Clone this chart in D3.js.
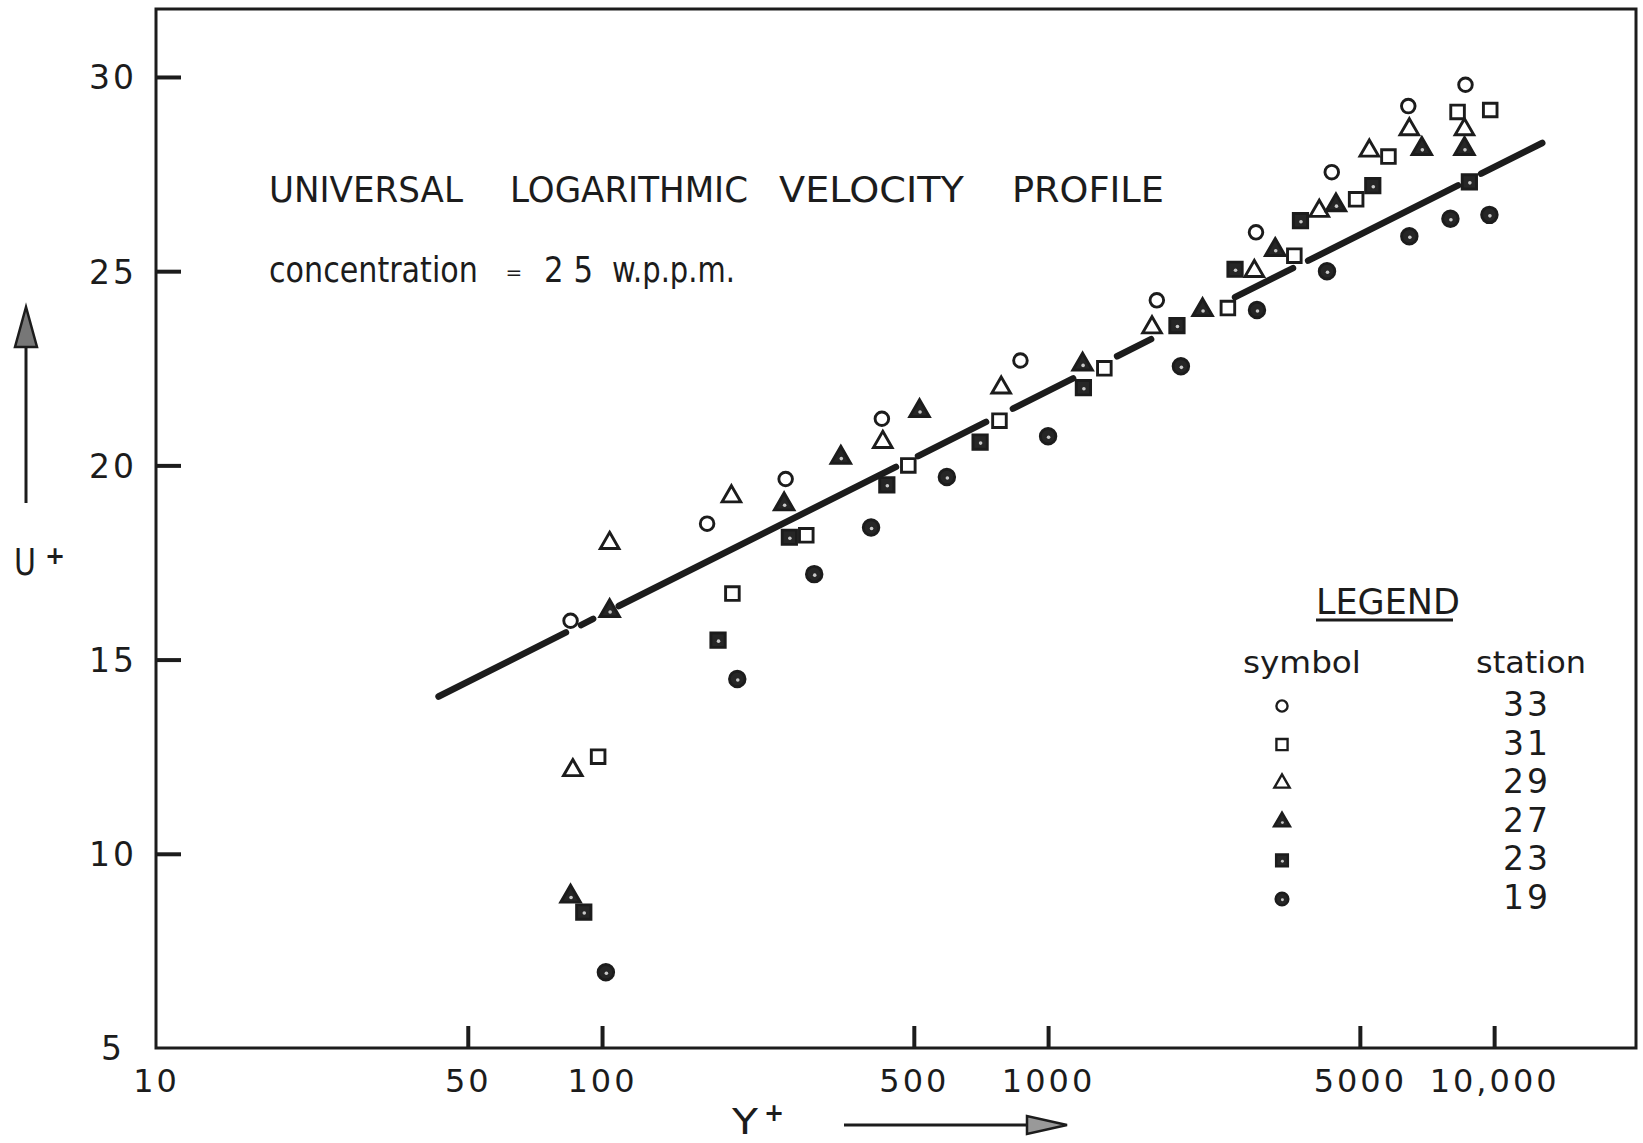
<!DOCTYPE html>
<html>
<head>
<meta charset="utf-8">
<script src="https://d3js.org/d3.v7.min.js"></script>
<title>universal log velocity profile</title>
<style>
  body { margin: 0; background: #fff; }
  text { font-family: "DejaVu Sans", sans-serif; fill: #1c1c1c; }
</style>
</head>
<body>
<div id="chart"></div>
<script>
// values: [Y+, U+]
const station33 = [[85, 16.0], [172, 18.5], [258, 19.65], [424, 21.2], [867, 22.7], [1753, 24.25],
  [2925, 26.0], [4325, 27.55], [6420, 29.25], [8625, 29.8]];
const station31 = [[98, 12.5], [196, 16.7], [287, 18.2], [486, 20.0], [778, 21.15], [1337, 22.5],
  [2530, 24.05], [3565, 25.4], [4905, 26.85], [5795, 27.95], [8280, 29.1], [9800, 29.15]];
const station29 = [[86, 12.15], [104, 18.0], [195, 19.2], [426, 20.6], [785, 22.0], [1710, 23.55],
  [2900, 25.0], [4055, 26.55], [5250, 28.1], [6455, 28.65], [8580, 28.65]];
const station27 = [[85, 8.9], [104, 16.25], [256, 19.0], [343, 20.2], [515, 21.4], [1195, 22.6],
  [2220, 24.0], [3230, 25.55], [4420, 26.7], [6885, 28.15], [8580, 28.15]];
const station23 = [[91, 8.5], [182, 15.5], [263, 18.15], [435, 19.5], [704, 20.6], [1200, 22.0],
  [1945, 23.6], [2625, 25.05], [3680, 26.3], [5345, 27.2], [8800, 27.3]];
const station19 = [[102, 6.95], [201, 14.5], [299, 17.2], [401, 18.4], [593, 19.7], [1000, 20.75],
  [1985, 22.55], [2940, 24.0], [4220, 25.0], [6455, 25.9], [7980, 26.35], [9760, 26.45]];

const stations = ["33", "31", "29", "27", "23", "19"];
const series = [station33, station31, station29, station27, station23, station19];

// the drawn log-law line, broken where it passes behind symbols
const lineSegments = [
  [[43, 14.05], [83, 15.70]],
  [[89.7, 15.89], [95.5, 16.05]],
  [[109, 16.38], [456, 19.96]],
  [[511, 20.24], [726, 21.12]],
  [[834, 21.46], [1138, 22.24]],
  [[1428, 22.81], [1702, 23.25]],
  [[2625, 24.33], [3540, 25.08]],
  [[3828, 25.27], [8300, 27.21]],
  [[9350, 27.51], [12820, 28.30]]
];

const xTicks = [10, 50, 100, 500, 1000, 5000, 10000];
const xTickLabels = ["10", "50", "100", "500", "1000", "5000", "10,000"];
const yTicks = [5, 10, 15, 20, 25, 30];

const W = 1643, H = 1143;
const ink = "#1c1c1c";

const svg = d3.select("#chart").append("svg")
  .attr("width", W).attr("height", H);

const x = d3.scaleLog().domain([10, 20800]).range([156, 1636]);
const y = d3.scaleLinear().domain([5, 31.75]).range([1048, 9]);

// lettering is narrower than DejaVu, so squeeze each word to its width
function fitText(parent, str, px, py, w, size) {
  const t = parent.append("text").attr("font-size", size).text(str);
  const nat = t.node().getComputedTextLength();
  t.attr("transform", `translate(${px},${py}) scale(${w / nat},1)`);
  return t;
}

// frame
svg.append("rect")
  .attr("x", x(10)).attr("y", y(31.75))
  .attr("width", x(20800) - x(10)).attr("height", y(5) - y(31.75))
  .attr("fill", "none").attr("stroke", ink).attr("stroke-width", 3);

// x axis
const xAxis = svg.append("g")
  .attr("transform", `translate(0,${y(5)})`)
  .call(d3.axisBottom(x).tickValues(xTicks).tickSize(-22)
    .tickFormat((d, i) => xTickLabels[i]));
xAxis.select(".domain").remove();
xAxis.selectAll(".tick line").attr("stroke", ink).attr("stroke-width", 4)
  .attr("display", d => d === 10 ? "none" : null);
xAxis.selectAll(".tick text")
  .attr("y", 44).attr("dy", 0)
  .attr("font-size", 32).attr("letter-spacing", 3)
  .attr("font-family", null).attr("fill", ink);

// y axis
const yAxis = svg.append("g")
  .attr("transform", `translate(${x(10)},0)`)
  .call(d3.axisLeft(y).tickValues(yTicks).tickSize(-25));
yAxis.select(".domain").remove();
yAxis.selectAll(".tick line").attr("stroke", ink).attr("stroke-width", 4)
  .attr("display", d => d === 5 ? "none" : null);
yAxis.selectAll(".tick text")
  .attr("x", -43).attr("dy", "0.36em")
  .attr("text-anchor", "middle")
  .attr("font-size", 33).attr("letter-spacing", 3)
  .attr("font-family", null).attr("fill", ink);

// log-law line
const line = d3.line().x(d => x(d[0])).y(d => y(d[1]));
svg.append("g").selectAll("path")
  .data(lineSegments)
  .join("path")
  .attr("d", line)
  .attr("fill", "none").attr("stroke", ink)
  .attr("stroke-width", 6.5).attr("stroke-linecap", "round");

// symbols
const symStyle = {
  "33": { type: d3.symbolCircle, size: 145, filled: false },
  "31": { type: d3.symbolSquare, size: 185, filled: false },
  "29": { type: d3.symbolTriangle, size: 150, filled: false },
  "27": { type: d3.symbolTriangle, size: 165, filled: true },
  "23": { type: d3.symbolSquare, size: 205, filled: true },
  "19": { type: d3.symbolCircle, size: 190, filled: true }
};

function drawSymbol(g, st, scale) {
  const s = symStyle[st];
  g.append("path")
    .attr("d", d3.symbol().type(s.type).size(s.size * scale * scale))
    .attr("fill", s.filled ? "#262626" : "#fff")
    .attr("stroke", ink)
    .attr("stroke-width", 2.9 * scale);
  if (s.filled) {
    g.append("circle")
      .attr("cx", 0.5 * scale).attr("cy", 1 * scale)
      .attr("r", 1.8 * scale).attr("fill", "#c8c8c8");
  }
}

const pts = svg.append("g");
series.forEach((data, i) => {
  pts.selectAll(null)
    .data(data)
    .join("g")
    .attr("transform", d => `translate(${x(d[0])},${y(d[1])})`)
    .each(function () { drawSymbol(d3.select(this), stations[i], 1); });
});

// titles
const head = svg.append("g");
fitText(head, "UNIVERSAL", 269, 202, 194, 36);
fitText(head, "LOGARITHMIC", 510, 202, 238, 36);
fitText(head, "VELOCITY", 779, 202, 185, 36);
fitText(head, "PROFILE", 1012, 202, 152, 36);

fitText(head, "concentration", 269, 282, 209, 35);
head.append("text").attr("x", 514).attr("y", 279).attr("text-anchor", "middle")
  .attr("font-size", 20).text("=");
fitText(head, "2 5", 544, 282, 49, 35);
fitText(head, "w.p.p.m.", 612, 282, 123, 35);

// legend
const lg = svg.append("g");
fitText(lg, "LEGEND", 1316, 614, 144, 36);
lg.append("line").attr("x1", 1316).attr("x2", 1453).attr("y1", 620).attr("y2", 620)
  .attr("stroke", ink).attr("stroke-width", 3);
fitText(lg, "symbol", 1243, 673, 118, 31);
fitText(lg, "station", 1476, 673, 110, 31);
stations.forEach((st, i) => {
  const by = 716 + i * 38.6;
  lg.append("text").attr("x", 1527).attr("y", by)
    .attr("text-anchor", "middle").attr("font-size", 33).attr("letter-spacing", 3)
    .text(st);
  const g = lg.append("g").attr("transform", `translate(1282,${by - 10})`);
  drawSymbol(g, st, 0.82);
});

// axis titles with arrows
svg.append("line").attr("x1", 26).attr("x2", 26).attr("y1", 503).attr("y2", 340)
  .attr("stroke", ink).attr("stroke-width", 3);
svg.append("path").attr("d", "M26,307 L15,347 L37,347 Z")
  .attr("fill", "#777").attr("stroke", ink).attr("stroke-width", 2.5);
fitText(svg, "U", 14, 575, 22, 38);
svg.append("text").attr("x", 55).attr("y", 564).attr("text-anchor", "middle")
  .attr("font-size", 24).attr("font-weight", "bold").text("+");

fitText(svg, "Y", 732, 1134, 26, 36);
svg.append("text").attr("x", 774).attr("y", 1121).attr("text-anchor", "middle")
  .attr("font-size", 24).attr("font-weight", "bold").text("+");
svg.append("line").attr("x1", 844).attr("x2", 1035).attr("y1", 1125).attr("y2", 1125)
  .attr("stroke", ink).attr("stroke-width", 3);
svg.append("path").attr("d", "M1067,1125 L1027,1116 L1027,1134 Z")
  .attr("fill", "#999").attr("stroke", ink).attr("stroke-width", 2.5);
</script>
</body>
</html>
